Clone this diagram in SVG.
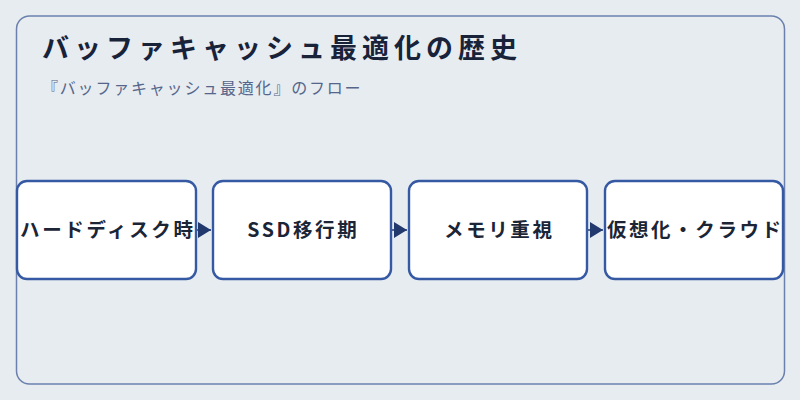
<svg xmlns="http://www.w3.org/2000/svg" width="800" height="400" viewBox="0 0 800 400">
<defs>
<style>
.frame{fill:#e7ecf1;stroke:#6b80ad;stroke-width:1.5}
.node rect{fill:#ffffff;stroke:#3659a3;stroke-width:2.4}
.node text{font-family:"Noto Sans CJK JP","Noto Sans",sans-serif;font-size:19.5px;font-weight:bold;fill:#1b2536;text-anchor:middle;letter-spacing:2.6px}
.title{font-family:"Noto Sans CJK JP","Noto Sans",sans-serif;font-size:27px;font-weight:bold;fill:#18233a;letter-spacing:5px}
.sub{font-family:"Noto Sans CJK JP","Noto Sans",sans-serif;font-size:16px;fill:#56668a;letter-spacing:1.8px}
.conn line{stroke:#22396e;stroke-width:1.5}
</style>
<marker id="arr" viewBox="0 0 13 16" refX="13" refY="8" markerWidth="13" markerHeight="16" markerUnits="userSpaceOnUse" orient="auto">
<path d="M0,0 L13,8 L0,16 Z" fill="#22396e"/>
</marker>
</defs>
<rect x="0" y="0" width="800" height="400" fill="#e7ecf1"/>
<rect class="frame" x="16.5" y="16" width="768" height="368" rx="13"/>
<text class="title" x="42" y="58">バッファキャッシュ最適化の歴史</text>
<text class="sub" x="42" y="94">『バッファキャッシュ最適化』のフロー</text>
<g id="connectors" class="conn">
<line x1="197" y1="230" x2="211" y2="230" marker-end="url(#arr)"/>
<line x1="392" y1="230" x2="407" y2="230" marker-end="url(#arr)"/>
<line x1="588" y1="230" x2="603" y2="230" marker-end="url(#arr)"/>
</g>
<g id="node1" class="node">
<rect x="17" y="181" width="179" height="98" rx="10"/>
<text x="107.8" y="237">ハードディスク時</text>
</g>
<g id="node2" class="node">
<rect x="213" y="181" width="178" height="98" rx="10"/>
<text x="303.3" y="237">SSD移行期</text>
</g>
<g id="node3" class="node">
<rect x="409" y="181" width="178" height="98" rx="10"/>
<text x="499.3" y="237">メモリ重視</text>
</g>
<g id="node4" class="node">
<rect x="605" y="181" width="178" height="98" rx="10"/>
<text x="695.3" y="237">仮想化・クラウド</text>
</g>
</svg>
